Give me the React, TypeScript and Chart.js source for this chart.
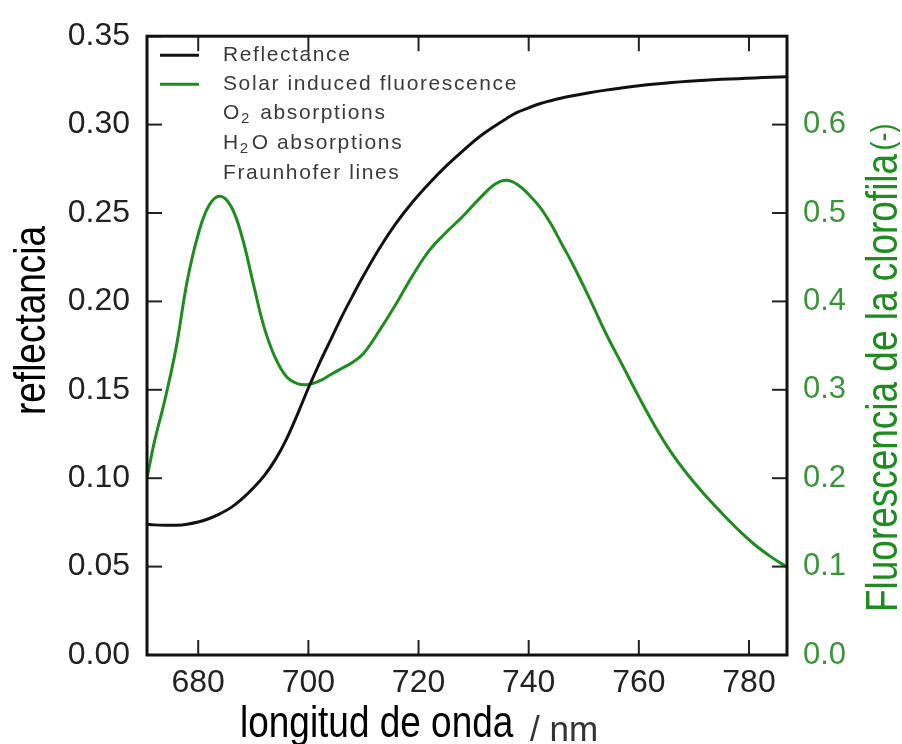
import React, { useEffect, useRef } from "react";
import { Chart, registerables } from "chart.js";

Chart.register(...registerables);

// ---- data ----
const wavelengths = [
  670.7, 672, 674, 676, 678, 680, 682, 684, 686, 688, 690, 692, 694, 696, 698, 700,
  702, 704, 706, 708, 710, 713, 716, 719, 722, 725, 728, 731, 734, 736, 738, 740,
  742, 744, 746, 748, 751, 754, 757, 760, 763, 766, 769, 772, 775, 778, 781, 784, 787,
];

const reflectance = [
  0.0739, 0.0736, 0.0734, 0.0734, 0.074, 0.0752, 0.0772, 0.08, 0.0835, 0.0885, 0.0945,
  0.1015, 0.1105, 0.122, 0.136, 0.151, 0.165, 0.178, 0.191, 0.203, 0.2145, 0.2305,
  0.2445, 0.2565, 0.267, 0.2765, 0.285, 0.293, 0.2995, 0.3035, 0.307, 0.3095, 0.3118,
  0.3135, 0.315, 0.3163, 0.318, 0.3195, 0.3208, 0.322, 0.323, 0.3238, 0.3245, 0.3251,
  0.3256, 0.326, 0.3264, 0.3268, 0.3271,
];

const fluorescence = [
  0.2, 0.24, 0.29, 0.348, 0.423, 0.476, 0.509, 0.519, 0.507, 0.472, 0.42, 0.37, 0.336,
  0.315, 0.307, 0.306, 0.31, 0.317, 0.324, 0.331, 0.341, 0.368, 0.398, 0.43, 0.458,
  0.478, 0.496, 0.516, 0.533, 0.537, 0.532, 0.521, 0.507, 0.488, 0.465, 0.442, 0.404,
  0.364, 0.328, 0.292, 0.258, 0.228, 0.203, 0.181, 0.161, 0.142, 0.125, 0.111, 0.099,
];

const xTicks = [680, 700, 720, 740, 760, 780];
const leftTicks = [0, 0.05, 0.1, 0.15, 0.2, 0.25, 0.3, 0.35];
const rightTicks = [0, 0.1, 0.2, 0.3, 0.4, 0.5, 0.6];

const legendLines = ["Reflectance", "Solar induced fluorescence"];
const xTitle = "longitud de onda";
const xUnit = "/ nm";
const leftTitle = "reflectancia";
const rightTitle = "Fluorescencia de la clorofila";
const rightUnit = "(-)";

const BLACK = "#111111";
const GREEN = "#1f8c1f";
const GREEN_TXT = "#3a953a";
const FONT = "'Liberation Sans', Arial, Helvetica, sans-serif";

const decor = {
  id: "decor",
  afterDraw(chart: any) {
    const { ctx, chartArea: a, scales } = chart;
    ctx.save();
    const line = (x1: number, y1: number, x2: number, y2: number) => {
      ctx.beginPath();
      ctx.moveTo(x1, y1);
      ctx.lineTo(x2, y2);
      ctx.stroke();
    };
    // inward ticks
    ctx.strokeStyle = "#222";
    ctx.lineWidth = 2;
    const L = 15;
    for (const v of xTicks) {
      const px = scales.x.getPixelForValue(v);
      line(px, a.bottom, px, a.bottom - L);
      line(px, a.top, px, a.top + L);
    }
    for (const v of leftTicks) {
      const py = scales.y.getPixelForValue(v);
      line(a.left, py, a.left + L, py);
    }
    for (const v of rightTicks) {
      const py = scales.y1.getPixelForValue(v);
      line(a.right, py, a.right - L, py);
    }
    // frame
    ctx.strokeStyle = BLACK;
    ctx.lineWidth = 3;
    ctx.strokeRect(a.left, a.top, a.right - a.left, a.bottom - a.top);

    // legend
    const lx0 = a.left + 13;
    const lx1 = a.left + 52;
    const tx = a.left + 76;
    const rows = [a.top + 19, a.top + 48, a.top + 77, a.top + 107, a.top + 137];
    ctx.lineWidth = 3;
    ctx.strokeStyle = BLACK;
    line(lx0, rows[0], lx1, rows[0]);
    ctx.strokeStyle = GREEN;
    line(lx0, rows[1], lx1, rows[1]);
    ctx.fillStyle = "#3a3a3a";
    ctx.textBaseline = "middle";
    ctx.textAlign = "left";
    ctx.font = `21px ${FONT}`;
    (ctx as any).letterSpacing = "1.6px";
    ctx.fillText(legendLines[0], tx, rows[0]);
    ctx.fillText(legendLines[1], tx, rows[1]);
    const sub = (parts: [string, boolean][], y: number) => {
      let x = tx;
      for (const [t, isSub] of parts) {
        ctx.font = isSub ? `15px ${FONT}` : `21px ${FONT}`;
        ctx.fillText(t, x, isSub ? y + 6 : y);
        x += ctx.measureText(t).width + (isSub ? 2 : 0);
      }
    };
    sub([["O", false], ["2", true], [" absorptions", false]], rows[2]);
    sub([["H", false], ["2", true], ["O absorptions", false]], rows[3]);
    ctx.font = `21px ${FONT}`;
    ctx.fillText("Fraunhofer lines", tx, rows[4]);
    (ctx as any).letterSpacing = "0px";

    // axis titles
    const SX = 0.84;
    ctx.textBaseline = "alphabetic";
    // bottom
    ctx.fillStyle = "#000";
    ctx.save();
    ctx.translate(240, 737);
    ctx.scale(SX, 1);
    ctx.font = `44px ${FONT}`;
    ctx.fillText(xTitle, 0, 0);
    ctx.restore();
    ctx.fillStyle = "#333";
    ctx.font = `35px ${FONT}`;
    ctx.fillText(xUnit, 530, 741);
    // left
    ctx.fillStyle = "#000";
    ctx.save();
    ctx.translate(45, 415);
    ctx.rotate(-Math.PI / 2);
    ctx.scale(SX, 1);
    ctx.font = `44px ${FONT}`;
    ctx.fillText(leftTitle, 0, 0);
    ctx.restore();
    // right
    ctx.fillStyle = GREEN;
    ctx.save();
    ctx.translate(897, 612);
    ctx.rotate(-Math.PI / 2);
    ctx.scale(SX, 1);
    ctx.font = `44px ${FONT}`;
    ctx.fillText(rightTitle, 0, 0);
    const w = ctx.measureText(rightTitle).width;
    ctx.font = `32px ${FONT}`;
    ctx.fillText(rightUnit, w + 4, -4);
    ctx.restore();

    ctx.restore();
  },
};

export default function App() {
  const ref = useRef<HTMLCanvasElement | null>(null);
  useEffect(() => {
    if (!ref.current) return;
    const chart = new Chart(ref.current, {
      type: "line",
      data: {
        datasets: [
          {
            label: legendLines[0],
            data: wavelengths.map((w, i) => ({ x: w, y: reflectance[i] })),
            borderColor: BLACK,
            borderWidth: 3,
            pointRadius: 0,
            tension: 0.4,
            yAxisID: "y",
          },
          {
            label: legendLines[1],
            data: wavelengths.map((w, i) => ({ x: w, y: fluorescence[i] })),
            borderColor: GREEN,
            borderWidth: 3,
            pointRadius: 0,
            tension: 0.4,
            yAxisID: "y1",
          },
        ],
      },
      options: {
        responsive: false,
        animation: false,
        layout: { padding: { top: 25, left: 0, right: 0, bottom: 0 } },
        plugins: { legend: { display: false }, tooltip: { enabled: false } },
        scales: {
          x: {
            type: "linear",
            position: "bottom",
            min: 670.7,
            max: 786.9,
            afterBuildTicks: (s: any) => {
              s.ticks = xTicks.map((v) => ({ value: v }));
            },
            afterFit: (s: any) => {
              s.height = 89;
            },
            grid: { display: false, drawTicks: false },
            border: { display: false },
            ticks: {
              padding: 9,
              color: "#222",
              font: { size: 32, family: FONT },
              maxRotation: 0,
              callback: (v: any) => String(v),
            },
          },
          y: {
            type: "linear",
            position: "left",
            min: 0,
            max: 0.35,
            afterBuildTicks: (s: any) => {
              s.ticks = leftTicks.map((v) => ({ value: v }));
            },
            afterFit: (s: any) => {
              s.width = 147;
            },
            grid: { display: false, drawTicks: false },
            border: { display: false },
            ticks: {
              padding: 17,
              color: "#222",
              font: { size: 32, family: FONT },
              callback: (v: any) => Number(v).toFixed(2),
            },
          },
          y1: {
            type: "linear",
            position: "right",
            min: 0,
            max: 0.7,
            afterBuildTicks: (s: any) => {
              s.ticks = rightTicks.map((v) => ({ value: v }));
            },
            afterFit: (s: any) => {
              s.width = 115;
            },
            grid: { display: false, drawTicks: false },
            border: { display: false },
            ticks: {
              padding: 16,
              color: GREEN_TXT,
              font: { size: 31, family: FONT },
              callback: (v: any) => Number(v).toFixed(1),
            },
          },
        },
      },
      plugins: [decor],
    } as any);
    return () => chart.destroy();
  }, []);
  return (
    <div style={{ position: "fixed", left: 0, top: 0, width: 902, height: 744, background: "#fff" }}>
      <canvas ref={ref} width={902} height={744} style={{ display: "block" }} />
    </div>
  );
}
